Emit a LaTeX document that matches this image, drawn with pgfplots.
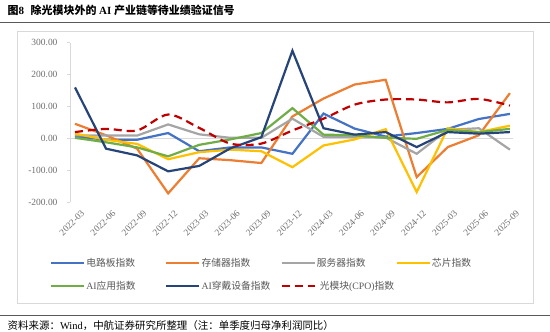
\documentclass[border=0pt]{standalone}
\usepackage{fontspec}
\setmainfont{Liberation Serif}
\newfontfamily\cjk{Noto Sans CJK SC}
\usepackage{pgfplots}
\pgfplotsset{compat=1.18}
\definecolor{cBlue}{HTML}{4472C4}
\definecolor{cOrange}{HTML}{ED7D31}
\definecolor{cGray}{HTML}{A5A5A5}
\definecolor{cYellow}{HTML}{FFC000}
\definecolor{cGreen}{HTML}{70AD47}
\definecolor{cNavy}{HTML}{264478}
\definecolor{cRed}{HTML}{C00000}
\definecolor{axgray}{HTML}{D9D9D9}
\definecolor{lblgray}{HTML}{6E6E6E}
\definecolor{txtgray}{HTML}{595959}
\pgfplotsset{
  mylegimg/.style={legend image code/.code={\draw[##1] (0bp,0bp) -- (33bp,0bp);}},
}
\pgfplotstableread{
x blue orange gray yellow green navy red
0 7 46 10 15 2 160 20
1 -4 10 9 -4 -12 -32 30
2 -4 -32 9 -17 -28 -53 25
3 17 -172 44 -65 -56 -103 75
4 -40 -62 13 -43 -20 -86 33
5 -28 -68 2 -35 -3 -31 -16
6 -28 -77 2 -40 17 4 -16
7 -48 69 62 -90 95 275 25
8 78 125 5 -22 12 32 62
9 31 169 4 -3 10 12 106
10 6 184 3 29 2 20 122
11 17 -121 -48 -168 -1 -27 122
12 30 -27 27 32 27 20 113
13 61 10 32 20 20 15 124
14 77 142 -35 40 30 20 103
}\datatable
\begin{document}
\begin{tikzpicture}
\useasboundingbox[fill=white] (0,0) rectangle (550bp,-332bp);
\node[anchor=west, inner sep=0pt, font=\fontsize{11}{13}\selectfont\bfseries] at (7.5bp,-10bp) {{\cjk\bfseries 图}8\hspace{0.6em}{\cjk\bfseries 除光模块外的} AI {\cjk\bfseries 产业链等待业绩验证信号}};
\draw[line width=1.6bp, color=black!65] (0,-22.5bp) -- (550bp,-22.5bp);
\draw[line width=0.8bp, color=axgray] (17bp,-31bp) rectangle (533bp,-303bp);
\draw[line width=0.9bp, color=black!65] (0,-315bp) -- (550bp,-315bp);
\node[anchor=west, inner sep=0pt, font=\fontsize{10.5}{12}\selectfont] at (7.5bp,-326bp) {{\cjk 资料来源：}Wind{\cjk ，中航证券研究所整理（注：单季度归母净利润同比）}};
\begin{axis}[
  at={(70bp,-202.3bp)}, anchor=south west,
  scale only axis, width=443bp, height=159.6bp,
  xmin=-0.16, xmax=14.1, ymin=-200, ymax=300,
  ytick={-200,-100,0,100,200,300},
  xtick={0,...,14},
  xticklabels={2022-03,2022-06,2022-09,2022-12,2023-03,2023-06,2023-09,2023-12,2024-03,2024-06,2024-09,2024-12,2025-03,2025-06,2025-09},
  axis y line*=left, axis x line*=bottom,
  x axis line style={draw=none},
  y axis line style={draw=axgray, line width=0.8bp},
  xtick style={draw=none},
  ytick style={draw=axgray, line width=0.8bp},
  tick align=outside, major tick length=3bp,
  extra y ticks={0}, extra y tick labels={},
  extra y tick style={grid=major, major grid style={draw=axgray, line width=1bp}, ytick style={draw=none}},
  yticklabel style={font=\fontsize{9.5}{11}\selectfont, color=lblgray, xshift=-6bp},
  xticklabel style={font=\fontsize{9.3}{10}\selectfont, color=lblgray, rotate=45, anchor=north east, inner sep=1bp, xshift=2bp, yshift=-6bp},
  /pgf/number format/.cd, fixed, fixed zerofill, precision=2, assume math mode=true, 1000 sep={},
  /pgfplots/.cd,
  mylegimg,
  legend columns=4,
  legend cell align=left,
  legend style={draw=none, fill=none, at={(axis description cs:0,0)}, anchor=north west, xshift=-20bp, yshift=-55bp,
    font=\fontsize{9.8}{11}\selectfont, text=txtgray, inner sep=0pt, row sep=11bp,
    nodes={inner sep=1bp}},
  every axis plot/.append style={line width=2.2bp},
]
\addplot[cBlue] table[x=x, y=blue] {\datatable};
\addlegendentry{\makebox[78bp][l]{\cjk 电路板指数}}
\addplot[cOrange] table[x=x, y=orange] {\datatable};
\addlegendentry{\makebox[78bp][l]{\cjk 存储器指数}}
\addplot[cGray] table[x=x, y=gray] {\datatable};
\addlegendentry{\makebox[78bp][l]{\cjk 服务器指数}}
\addplot[cYellow] table[x=x, y=yellow] {\datatable};
\addlegendentry{\makebox[78bp][l]{\cjk 芯片指数}}
\addplot[cGreen] table[x=x, y=green] {\datatable};
\addlegendentry{\makebox[78bp][l]{AI{\cjk 应用指数}}}
\addplot[cNavy] table[x=x, y=navy] {\datatable};
\addlegendentry{\makebox[78bp][l]{AI{\cjk 穿戴设备指数}}}
\addplot[cRed, smooth, tension=0.5, dash pattern=on 8bp off 5bp] table[x=x, y=red] {\datatable};
\addlegendentry{\makebox[78bp][l]{\hspace{3bp}{\cjk 光模块}(CPO){\cjk 指数}}}
\end{axis}
\end{tikzpicture}
\end{document}
